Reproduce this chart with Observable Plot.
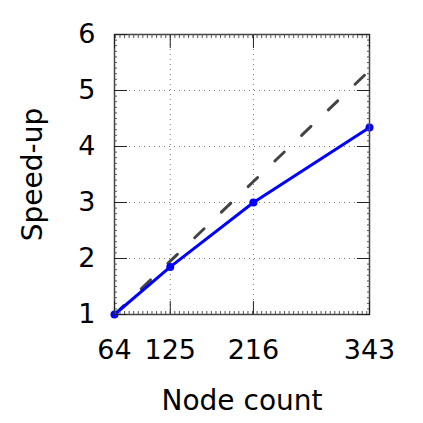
<!DOCTYPE html>
<html>
<head>
<meta charset="utf-8">
<script src="https://cdn.jsdelivr.net/npm/d3@7"></script>
<script src="https://cdn.jsdelivr.net/npm/@observablehq/plot@0.6"></script>
<style>
  html, body { margin: 0; padding: 0; background: #fff; }
  svg { font-family: "DejaVu Sans", sans-serif; }
</style>
</head>
<body>
<div id="chart"></div>
<script>
const nodes = [64, 125, 216, 343];
const speedup = [1.0, 1.85, 3.0, 4.34];
const ideal = [1.0, 1.953, 3.375, 5.359];
const xTicks = [64, 125, 216, 343];
const yTicks = [1, 2, 3, 4, 5, 6];
const xGrid = [125, 216];
const yGrid = [2, 3, 4, 5];
const xMinor = d3.range(65, 343, 5);
const yMinor = d3.range(1, 6.001, 0.1);

const measured = nodes.map((n, i) => ({n, s: speedup[i]}));
const idealData = nodes.map((n, i) => ({n, s: ideal[i]}));

const fmt = "DejaVu Sans, sans-serif";

const chart = Plot.plot({
  width: 423,
  height: 423,
  marginLeft: 114,
  marginRight: 54,
  marginTop: 34,
  marginBottom: 109,
  style: {fontFamily: fmt, color: "#000", background: "#fff"},
  x: {domain: [64, 343]},
  y: {domain: [1, 6]},
  marks: [
    Plot.gridX(xGrid, {stroke: "#777", strokeOpacity: 1, strokeWidth: 1, strokeDasharray: "1,4"}),
    Plot.gridY(yGrid, {stroke: "#777", strokeOpacity: 1, strokeWidth: 1, strokeDasharray: "1,4"}),
    Plot.line(idealData, {x: "n", y: "s", stroke: "#444", strokeWidth: 3, strokeDasharray: "13,24"}),
    Plot.line(measured, {x: "n", y: "s", stroke: "#0000ff", strokeWidth: 3}),
    Plot.dot(measured, {x: "n", y: "s", fill: "#0000ff", r: 4}),
    Plot.frame({stroke: "#444", strokeWidth: 1.5}),
    // minor ticks (mirrored)
    Plot.axisX({anchor: "bottom", ticks: xMinor, tickSize: -3, tickFormat: () => "", stroke: "#555", label: null}),
    Plot.axisX({anchor: "top", ticks: xMinor, tickSize: -3, tickFormat: () => "", stroke: "#555", label: null}),
    Plot.axisY({anchor: "left", ticks: yMinor, tickSize: -3, tickFormat: () => "", stroke: "#555", label: null}),
    Plot.axisY({anchor: "right", ticks: yMinor, tickSize: -3, tickFormat: () => "", stroke: "#555", label: null}),
    // major ticks (mirrored, inward)
    Plot.axisX({anchor: "bottom", ticks: xTicks, tickSize: -13, tickFormat: () => "", stroke: "#222", label: null}),
    Plot.axisX({anchor: "top", ticks: xTicks, tickSize: -13, tickFormat: () => "", stroke: "#222", label: null}),
    Plot.axisY({anchor: "left", ticks: yTicks, tickSize: -13, tickFormat: () => "", stroke: "#222", label: null}),
    Plot.axisY({anchor: "right", ticks: yTicks, tickSize: -13, tickFormat: () => "", stroke: "#222", label: null}),
    // tick labels
    Plot.axisX({anchor: "bottom", ticks: xTicks, tickSize: 0, tickPadding: 25, fontSize: 27, tickFormat: d => String(d), label: null, fill: "#000"}),
    Plot.axisY({anchor: "left", ticks: yTicks, tickSize: 0, tickPadding: 19, fontSize: 27, tickFormat: d => String(d), label: null, fill: "#000"}),
    // axis titles
    Plot.text(["Node count"], {frameAnchor: "bottom", lineAnchor: "middle", textAnchor: "middle", dy: 87, fontSize: 28, fill: "#000", text: d => d}),
    Plot.text(["Speed-up"], {frameAnchor: "left", lineAnchor: "middle", textAnchor: "middle", dx: -81, rotate: -90, fontSize: 28, fill: "#000", text: d => d})
  ]
});

document.getElementById("chart").appendChild(chart);
</script>
</body>
</html>
